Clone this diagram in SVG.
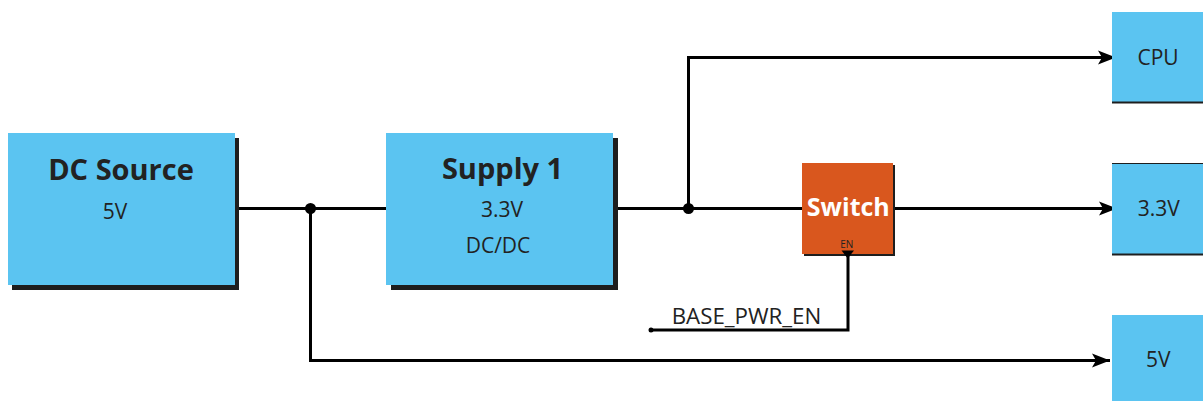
<svg xmlns="http://www.w3.org/2000/svg" width="1203" height="401" viewBox="0 0 1203 401">
<defs>
<style>
.box{fill:#5BC4F1}
.shadow{fill:#1E1E1E}
.sw{fill:#D9571E}
.t{font-family:"Open Sans","Liberation Sans",sans-serif;fill:#222222;text-anchor:middle}
.b{font-weight:bold;font-size:29px}
.r{font-size:21px}
.wire{fill:none;stroke:#000;stroke-width:3}
</style>
<marker id="arr" markerUnits="userSpaceOnUse" markerWidth="20" markerHeight="16" viewBox="-19 -8 20 16" refX="0" refY="0" orient="auto">
<path d="M0,0 L-18,-7 L-14,0 L-18,7 Z" fill="#000"/>
</marker>
</defs>
<rect width="1203" height="401" fill="#fff"/>
<g id="connectors">
<path class="wire" d="M235,208.5 H386"/>
<path class="wire" d="M310.5,208.5 V360.5 H1110" marker-end="url(#arr)"/>
<path class="wire" d="M613,208.5 H802"/>
<path class="wire" d="M688.5,208.5 V57.5 H1116" marker-end="url(#arr)"/>
<path class="wire" d="M895,208.5 H1117" marker-end="url(#arr)"/>
<path class="wire" d="M651,330 H848 V256"/>
<circle cx="310.5" cy="208.5" r="5.5" fill="#000"/>
<circle cx="688.5" cy="208.5" r="5.5" fill="#000"/>
<circle cx="651" cy="330" r="2.5" fill="#000"/>
<text class="t" x="746.5" y="324" style="font-size:22.3px">BASE_PWR_EN</text>
</g>
<g id="dc-source">
<rect class="shadow" x="12" y="138" width="227" height="152"/>
<rect class="box" x="8" y="133" width="227" height="152"/>
<text class="t b" x="121" y="180">DC Source</text>
<text class="t r" x="115" y="219">5V</text>
</g>
<g id="supply-1">
<rect class="shadow" x="391" y="138" width="227" height="152"/>
<rect class="box" x="386" y="133" width="227" height="152"/>
<text class="t b" x="502.5" y="179">Supply 1</text>
<text class="t r" x="502" y="217">3.3V</text>
<text class="t r" x="498" y="252.5">DC/DC</text>
</g>
<g id="switch">
<rect class="shadow" x="804" y="165" width="91" height="91"/>
<rect class="sw" x="802" y="163" width="91" height="91"/>
<text class="t" x="848.3" y="215.5" style="font-weight:bold;font-size:25px;fill:#fff">Switch</text>
<text class="t" x="846.7" y="248.3" style="font-size:10px">EN</text>
<path d="M841.5,250.5 H854 L847.7,258.5 Z" fill="#000"/>
</g>
<g id="cpu">
<rect class="shadow" x="1112" y="14" width="91" height="89.5"/>
<rect class="box" x="1112" y="12" width="91" height="89.5"/>
<text class="t r" x="1158" y="65">CPU</text>
</g>
<g id="out-3v3">
<rect class="shadow" x="1112" y="163" width="91" height="92.5"/>
<rect class="box" x="1112" y="164" width="91" height="89.5"/>
<text class="t r" x="1158.8" y="216">3.3V</text>
</g>
<g id="out-5v">
<rect class="box" x="1112" y="315" width="91" height="86"/>
<text class="t r" x="1158.3" y="367.3">5V</text>
</g>
</svg>
